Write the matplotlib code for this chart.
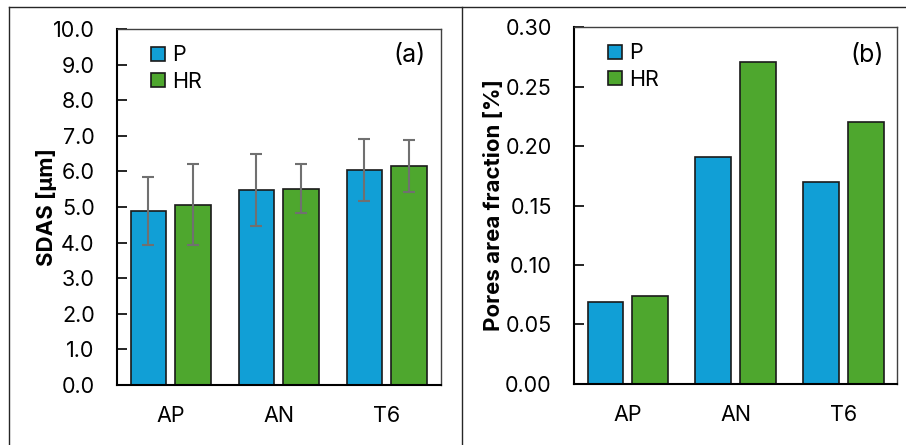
import numpy as np
import matplotlib
matplotlib.use("Agg")
import matplotlib.pyplot as plt
from matplotlib.lines import Line2D

plt.rcParams["font.family"] = ["Inter", "DejaVu Sans"]

categories = ["AP", "AN", "T6"]
series = ["P", "HR"]

sdas_p = [4.88, 5.48, 6.05]
sdas_hr = [5.07, 5.52, 6.15]
sdas_p_err = [0.96, 1.00, 0.87]
sdas_hr_err = [1.13, 0.69, 0.74]

pores_p = [0.069, 0.191, 0.170]
pores_hr = [0.074, 0.271, 0.220]

blue = "#119FD6"
green = "#4EA72E"
err_color = "#707070"
fs = 15.5

fig = plt.figure(figsize=(9.06, 4.45), dpi=100)
ax1 = fig.add_axes([0.1291, 0.1348, 0.3576, 0.800])
ax2 = fig.add_axes([0.6336, 0.1371, 0.3565, 0.8022])

x = np.arange(len(categories))
w = 0.333
off = 0.208


def style_axes(ax):
    ax.set_xlim(-0.5, 2.5)
    ax.set_xticks(x)
    ax.set_xticklabels(categories)
    ax.tick_params(axis="x", length=0, pad=15, labelsize=fs)
    ax.tick_params(axis="y", direction="in", length=7, width=1.2, pad=16, labelsize=fs)
    ax.spines["left"].set_linewidth(1.5)
    ax.spines["bottom"].set_linewidth(1.5)
    for s in ["top", "right"]:
        ax.spines[s].set_linewidth(1.0)
        ax.spines[s].set_color("#404040")
    ax.legend(loc="upper left", bbox_to_anchor=(0.08, 0.978), frameon=False,
              fontsize=fs, handlelength=0.62, handleheight=0.62,
              handletextpad=0.35, labelspacing=0.3, borderaxespad=0)


# (a) SDAS
ax1.bar(x - off, sdas_p, w, color=blue, edgecolor="#1a1a1a", linewidth=1.2, label=series[0], zorder=2)
ax1.bar(x + off, sdas_hr, w, color=green, edgecolor="#1a1a1a", linewidth=1.2, label=series[1], zorder=2)
ax1.errorbar(x - off, sdas_p, yerr=sdas_p_err, fmt="none", ecolor=err_color, elinewidth=1.5, capsize=4, capthick=1.5, zorder=3)
ax1.errorbar(x + off, sdas_hr, yerr=sdas_hr_err, fmt="none", ecolor=err_color, elinewidth=1.5, capsize=4, capthick=1.5, zorder=3)
ax1.set_ylim(0, 10)
ax1.set_yticks(np.arange(0, 10.01, 1.0))
ax1.set_yticklabels([f"{v:.1f}" for v in np.arange(0, 10.01, 1.0)])
ax1.set_ylabel("SDAS [µm]", fontsize=16, fontweight="bold")
ax1.yaxis.set_label_coords(-0.186, 0.5)
style_axes(ax1)
ax1.text(0.904, 0.927, "(a)", transform=ax1.transAxes, ha="center", va="center", fontsize=18)

# (b) pores
ax2.bar(x - off, pores_p, w, color=blue, edgecolor="#1a1a1a", linewidth=1.2, label=series[0], zorder=2)
ax2.bar(x + off, pores_hr, w, color=green, edgecolor="#1a1a1a", linewidth=1.2, label=series[1], zorder=2)
ax2.set_ylim(0, 0.30)
ax2.set_yticks(np.arange(0, 0.301, 0.05))
ax2.set_yticklabels([f"{v:.2f}" for v in np.arange(0, 0.301, 0.05)])
ax2.set_ylabel("Pores area fraction [%]", fontsize=16, fontweight="bold")
ax2.yaxis.set_label_coords(-0.218, 0.5)
style_axes(ax2)
ax2.text(0.907, 0.919, "(b)", transform=ax2.transAxes, ha="center", va="center", fontsize=18)

# panel borders
bx_l = 9 / 906
bx_m = 462 / 906
by_t = 1 - 7 / 445
for xs, ys in [([bx_l, bx_l], [0, by_t]), ([bx_l, 1], [by_t, by_t]), ([bx_m, bx_m], [0, by_t])]:
    fig.add_artist(Line2D(xs, ys, transform=fig.transFigure, color="#262626", linewidth=1.0))

fig.savefig("out.png", dpi=100)
